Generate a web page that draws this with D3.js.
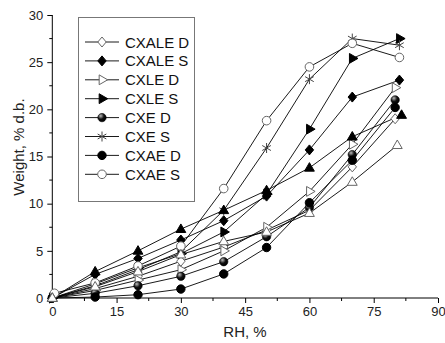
<!DOCTYPE html>
<html>
<head>
<meta charset="utf-8">
<script src="https://cdn.jsdelivr.net/npm/d3@7"></script>
<style>
  body { margin: 0; background: #fff; }
  svg { display: block; font-family: "Liberation Sans", Arial, sans-serif; }
</style>
</head>
<body>
<svg id="canvas" width="445" height="343"></svg>
<script>
// Data (RH %, weight % d.b.)
let seriesNames = ['CXALE D', 'CXALE S', 'CXLE D', 'CXLE S', 'CXE D', 'CXE S', 'CXAE D', 'CXAE S', '', ''];
let rhCommon = [0, 10, 20, 30, 40, 50, 60, 70];
let rhFirst = [0, 0, 0, 0, 0, 0, 0, 0.5, 0, 0];
let rhFinal = [80, 81, 80, 81, 80, 81, 80, 81, 81.5, 80.5];

let cxaleD = [0, 1.0, 2.3, 3.9, 5.4, 7.2, 9.3, 13.9, 19.0];
let cxaleS = [0, 2.5, 4.2, 6.15, 8.2, 10.8, 15.7, 21.3, 23.1];
let cxleD = [0, 0.8, 1.9, 3.0, 5.0, 7.5, 11.3, 16.3, 22.3];
let cxleS = [0, 1.5, 3.2, 4.7, 7.0, 11.0, 17.9, 25.4, 27.5];
let cxeD = [0, 0.5, 1.3, 2.3, 3.85, 6.5, 9.6, 15.2, 21.0];
let cxeS = [0, 1.3, 3.0, 4.9, 9.3, 15.9, 23.2, 27.5, 26.8];
let cxaeD = [0, 0.1, 0.35, 0.95, 2.55, 5.35, 10.1, 14.6, 20.2];
let cxaeS = [0.5, 1.6, 3.4, 5.5, 11.6, 18.8, 24.5, 27.0, 25.5];
let extraA = [0, 2.8, 5.0, 7.3, 9.3, 11.4, 13.8, 17.1, 19.4];
let extraB = [0, 1.2, 2.8, 4.6, 6.0, 7.0, 9.0, 12.3, 16.2];

let xTicks = [0, 15, 30, 45, 60, 75, 90];
let yTicks = [0, 5, 10, 15, 20, 25, 30];

let allValues = [cxaleD, cxaleS, cxleD, cxleS, cxeD, cxeS, cxaeD, cxaeS, extraA, extraB];
let markerKinds = ['diamondOpen', 'diamondFilled', 'rightOpen', 'rightFilled', 'ball', 'asterisk', 'circleFilled', 'circleOpen', 'upFilled', 'upOpen'];

let canvas = d3.select('#canvas');

let xScale = d3.scaleLinear().domain([0, 90]).range([52.3, 438]);
let yScale = d3.scaleLinear().domain([0, 30]).range([298, 15]);

// gradient for the shaded ball marker
let defs = canvas.append('defs');
let grad = defs.append('radialGradient').attr('id', 'ball')
    .attr('cx', '35%').attr('cy', '30%').attr('r', '70%');
grad.append('stop').attr('offset', '0%').attr('stop-color', '#bbb');
grad.append('stop').attr('offset', '55%').attr('stop-color', '#111');
grad.append('stop').attr('offset', '100%').attr('stop-color', '#000');

// Axes
let xAxis = d3.axisBottom(xScale).tickValues(xTicks).tickSize(5).tickPadding(4);
let yAxis = d3.axisLeft(yScale).tickValues(yTicks).tickSize(5).tickPadding(4);

let gx = canvas.append('g').attr('transform', 'translate(0,' + yScale(0) + ')').call(xAxis);
let gy = canvas.append('g').attr('transform', 'translate(' + xScale(0) + ',0)').call(yAxis);

gx.selectAll('.domain').attr('d', 'M' + xScale(0) + ',0H' + xScale(90));
gy.selectAll('.domain').attr('d', 'M0,' + yScale(0) + 'V' + yScale(30));

[gx, gy].forEach((g) => {
    g.selectAll('.domain').attr('stroke', '#000').attr('stroke-width', 1);
    g.selectAll('.tick line').attr('stroke', '#000');
    g.selectAll('.tick text').attr('font-size', 13).attr('fill', '#222')
        .attr('font-family', '"Liberation Sans", Arial, sans-serif');
});

// minor ticks
gx.selectAll('.minor')
    .data(d3.range(7.5, 90, 15))
    .enter()
    .append('line')
    .attr('x1', (d) => xScale(d)).attr('x2', (d) => xScale(d))
    .attr('y1', 0).attr('y2', 3)
    .attr('stroke', '#000');
gy.selectAll('.minor')
    .data(d3.range(2.5, 30, 5))
    .enter()
    .append('line')
    .attr('y1', (d) => yScale(d)).attr('y2', (d) => yScale(d))
    .attr('x1', 0).attr('x2', -3)
    .attr('stroke', '#000');

// Axis titles
canvas.append('text')
    .attr('x', 245).attr('y', 337)
    .attr('text-anchor', 'middle')
    .attr('font-size', 15).attr('fill', '#222')
    .text('RH, %');
canvas.append('text')
    .attr('transform', 'translate(24,147) rotate(-90)')
    .attr('text-anchor', 'middle')
    .attr('font-size', 15).attr('fill', '#222')
    .text('Weight, % d.b.');

// Marker drawing
let drawMarker = (g, kind, cx, cy) => {
    let sym = (type, size, rot) => d3.symbol().type(type).size(size)();
    if (kind === 'diamondOpen' || kind === 'diamondFilled') {
        g.append('path').attr('d', 'M0,-5L4.2,0L0,5L-4.2,0Z')
            .attr('transform', 'translate(' + cx + ',' + cy + ')')
            .attr('fill', kind === 'diamondOpen' ? '#fff' : '#000')
            .attr('stroke', kind === 'diamondOpen' ? '#666' : '#000');
    } else if (kind === 'rightOpen' || kind === 'rightFilled') {
        g.append('path').attr('d', sym(d3.symbolTriangle, 42))
            .attr('transform', 'translate(' + cx + ',' + cy + ') rotate(90)')
            .attr('fill', kind === 'rightOpen' ? '#fff' : '#000')
            .attr('stroke', kind === 'rightOpen' ? '#666' : '#000');
    } else if (kind === 'upOpen' || kind === 'upFilled') {
        g.append('path').attr('d', sym(d3.symbolTriangle, 42))
            .attr('transform', 'translate(' + cx + ',' + (cy + 0.5) + ')')
            .attr('fill', kind === 'upOpen' ? '#fff' : '#000')
            .attr('stroke', kind === 'upOpen' ? '#666' : '#000');
    } else if (kind === 'ball') {
        g.append('circle').attr('cx', cx).attr('cy', cy).attr('r', 4.2)
            .attr('fill', 'url(#ball)').attr('stroke', '#000').attr('stroke-width', 0.6);
    } else if (kind === 'circleFilled') {
        g.append('circle').attr('cx', cx).attr('cy', cy).attr('r', 4.2)
            .attr('fill', '#000').attr('stroke', '#000');
    } else if (kind === 'circleOpen') {
        g.append('circle').attr('cx', cx).attr('cy', cy).attr('r', 4.3)
            .attr('fill', '#fff').attr('stroke', '#666');
    } else if (kind === 'asterisk') {
        let r = 5;
        let p = '';
        [90, 30, 150].forEach((a) => {
            let dx = r * Math.cos(a * Math.PI / 180);
            let dy = r * Math.sin(a * Math.PI / 180);
            p += 'M' + (-dx) + ',' + (-dy) + 'L' + dx + ',' + dy;
        });
        g.append('path').attr('d', p)
            .attr('transform', 'translate(' + cx + ',' + cy + ')')
            .attr('fill', 'none').attr('stroke', '#444').attr('stroke-width', 1);
    }
};

let line = d3.line().x((d) => xScale(d[0])).y((d) => yScale(d[1]));

let seriesData = allValues.map((vals, i) => {
    let xs = [rhFirst[i]].concat(rhCommon.slice(1), [rhFinal[i]]);
    return vals.map((v, j) => [xs[j], v]);
});

// Lines
let plot = canvas.append('g');
seriesData.forEach((pts) => {
    plot.append('path')
        .attr('d', line(pts))
        .attr('fill', 'none')
        .attr('stroke', '#000')
        .attr('stroke-width', 0.9);
});

// Markers
seriesData.forEach((pts, i) => {
    let g = plot.append('g');
    pts.forEach((p) => {
        drawMarker(g, markerKinds[i], xScale(p[0]), yScale(p[1]));
    });
});

// Legend
let legend = canvas.append('g');
legend.append('rect')
    .attr('x', 78.5).attr('y', 17.5).attr('width', 116).attr('height', 184)
    .attr('fill', '#fff').attr('stroke', '#777').attr('stroke-width', 1);

seriesNames.slice(0, 8).forEach((name, i) => {
    let y = 42 + i * 18.9;
    legend.append('line')
        .attr('x1', 85).attr('x2', 119).attr('y1', y).attr('y2', y)
        .attr('stroke', '#000').attr('stroke-width', 0.9);
    drawMarker(legend, markerKinds[i], 102, y);
    legend.append('text')
        .attr('x', 125).attr('y', y + 5.5)
        .attr('font-size', 15).attr('fill', '#111')
        .text(name);
});
</script>
</body>
</html>
